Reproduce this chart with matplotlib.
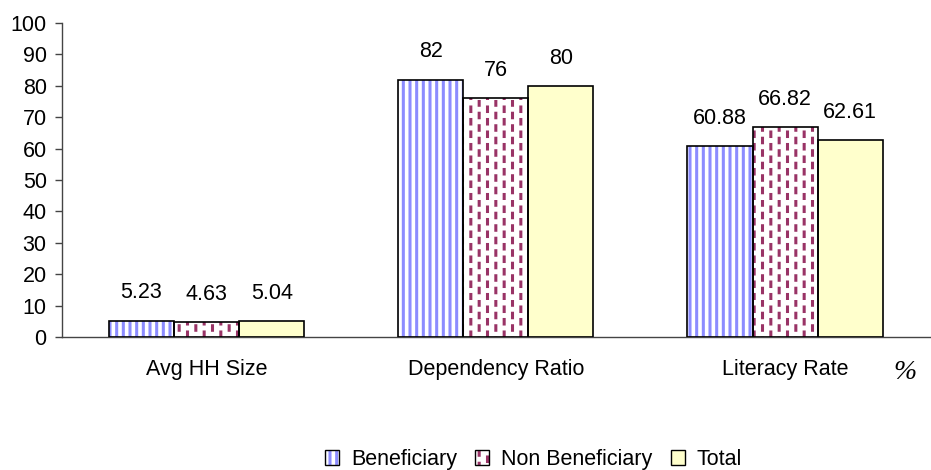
import warnings
import numpy as np
import matplotlib
matplotlib.use("Agg")
import matplotlib.pyplot as plt
from matplotlib import hatch as mhatch
from matplotlib.path import Path
from matplotlib.patches import Patch
from matplotlib.legend_handler import HandlerTuple

warnings.filterwarnings("ignore")

categories = ["Avg HH Size", "Dependency Ratio", "Literacy Rate"]
series_names = ["Beneficiary", "Non Beneficiary", "Total"]
beneficiary = [5.23, 82, 60.88]
non_beneficiary = [4.63, 76, 66.82]
total = [5.04, 80, 62.61]
value_labels = [
    ["5.23", "82", "60.88"],
    ["4.63", "76", "66.82"],
    ["5.04", "80", "62.61"],
]
yticks = list(range(0, 101, 10))


class FineStripes(mhatch.HatchPatternBase):
    """Closely spaced vertical stripes."""

    def __init__(self, hatch, density):
        self.ncols = 15 * hatch.count('$')
        self.num_vertices = self.ncols * 2

    def set_vertices_and_codes(self, vertices, codes):
        for i in range(self.ncols):
            xx = (i + 0.5) / self.ncols
            vertices[2 * i] = (xx, 0.0)
            vertices[2 * i + 1] = (xx, 1.0)
            codes[2 * i] = Path.MOVETO
            codes[2 * i + 1] = Path.LINETO


class StaggeredDashes(mhatch.HatchPatternBase):
    """Short vertical dashes, alternate columns shifted by half a period."""

    def __init__(self, hatch, density):
        self.ncols = 12 * hatch.count('!')
        self.nrows = 8
        self.num_vertices = self.ncols * self.nrows * 2

    def set_vertices_and_codes(self, vertices, codes):
        k = 0
        for i in range(self.ncols):
            xx = (i + 0.5) / self.ncols
            off = 0.5 if i % 2 else 0.0
            for j in range(self.nrows):
                y0 = (j + off) / self.nrows + 0.01
                vertices[k] = (xx, y0)
                vertices[k + 1] = (xx, y0 + 0.045)
                codes[k] = Path.MOVETO
                codes[k + 1] = Path.LINETO
                k += 2


mhatch._hatch_types.extend([FineStripes, StaggeredDashes])

plt.rcParams['font.family'] = ['Liberation Sans', 'DejaVu Sans']
plt.rcParams['hatch.linewidth'] = 2.2

fig = plt.figure(figsize=(9.31, 4.70), dpi=100)
ax = fig.add_axes([0.0666, 0.283, 0.932, 0.668])

x = np.arange(len(categories))
w = 0.225
styles = [
    dict(face="white", hatch="$", hcolor="#8c8cff"),
    dict(face="white", hatch="!", hcolor="#993366"),
    dict(face="#ffffcc", hatch=None, hcolor="black"),
]
data = [beneficiary, non_beneficiary, total]
handles = []
for k, (vals, st, labs) in enumerate(zip(data, styles, value_labels)):
    pos = x + (k - 1) * w
    ax.bar(pos, vals, w, color=st["face"], edgecolor=st["hcolor"],
           hatch=st["hatch"], linewidth=0, zorder=2)
    ax.bar(pos, vals, w, fill=False, edgecolor="black", linewidth=1.2, zorder=3)
    for px, v, t in zip(pos, vals, labs):
        ax.annotate(t, (px, v), xytext=(0, 20), textcoords="offset points",
                    ha="center", va="center", fontsize=15.5)
    h1 = Patch(facecolor=st["face"], edgecolor=st["hcolor"], hatch=st["hatch"], linewidth=0)
    h2 = Patch(fill=False, edgecolor="black", linewidth=1.0)
    handles.append((h1, h2))

ax.set_xlim(-0.5, 2.5)
ax.set_ylim(0, 100)
ax.set_yticks(yticks)
ax.set_xticks(x)
ax.set_xticklabels(categories)
ax.tick_params(axis="y", labelsize=15.5, length=5, width=1, color="#444444", pad=6)
ax.tick_params(axis="x", labelsize=15.5, length=0, pad=16)
for s in ["top", "right"]:
    ax.spines[s].set_visible(False)
for s in ["left", "bottom"]:
    ax.spines[s].set_color("#444444")
    ax.spines[s].set_linewidth(1.0)

fig.text(0.972, 0.208, "%", family=["Liberation Serif"], style="italic",
         fontsize=20, ha="center", va="center")

fig.legend(handles, series_names,
           handler_map={tuple: HandlerTuple(ndivide=1, pad=0)},
           loc="center", bbox_to_anchor=(0.573, 0.022), ncol=3, frameon=False,
           fontsize=15.5, handlelength=0.65, handleheight=0.65,
           handletextpad=0.55, columnspacing=0.85)

fig.savefig("out.png", dpi=100)
